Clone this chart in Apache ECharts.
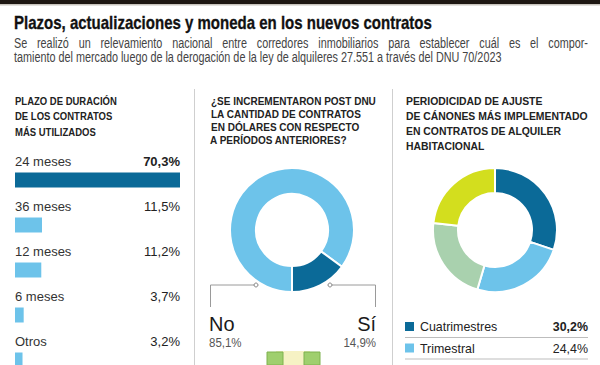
<!DOCTYPE html>
<html><head><meta charset="utf-8">
<script src="https://cdn.jsdelivr.net/npm/echarts@6/dist/echarts.min.js"></script>
<style>html,body{margin:0;padding:0;background:#fff}#c{width:600px;height:365px}</style>
</head><body><div id="c"></div>
<script>
// ---- Data ----
const title = "Plazos, actualizaciones y moneda en los nuevos contratos";
const subtitle = ["Se realizó un relevamiento nacional entre corredores inmobiliarios para establecer cuál es el compor-",
                  "tamiento del mercado luego de la derogación de la ley de alquileres 27.551 a través del DNU 70/2023"];
const head1 = ["PLAZO DE DURACIÓN", "DE LOS CONTRATOS", "MÁS UTILIZADOS"];
const head2 = ["¿SE INCREMENTARON POST DNU", "LA CANTIDAD DE CONTRATOS", "EN DÓLARES CON RESPECTO", "A PERÍODOS ANTERIORES?"];
const head3 = ["PERIODICIDAD DE AJUSTE", "DE CÁNONES MÁS IMPLEMENTADO", "EN CONTRATOS DE ALQUILER", "HABITACIONAL"];

const plazoCats = ["24 meses", "36 meses", "12 meses", "6 meses", "Otros"];
const plazoVals = [70.3, 11.5, 11.2, 3.7, 3.2];

const dolarCats = ["No", "Sí"];
const dolarVals = [85.1, 14.9];

const ajusteCats = ["Cuatrimestres", "Trimestral", "Semestral", "Otros"];
const ajusteVals = [30.2, 24.4, 22.2, 23.2];
const ajusteLegendShown = ["Cuatrimestres", "Trimestral"];

// ---- Styles ----
const DARK = "#0b6a98", LIGHT = "#6dc3ea", GREEN = "#a9d1ae", YELLOW = "#d3de1e";
const F = "'Liberation Sans',Arial,sans-serif";
const fmt = v => v.toFixed(1).replace('.', ',') + '%';
const maxV = Math.max(...plazoVals);

const mctx = document.createElement('canvas').getContext('2d');
function tw(text, font){ mctx.font = font; return mctx.measureText(text).width; }
function scaleFor(text, font, width){ return width / tw(text, font); }

const chart = echarts.init(document.getElementById('c'), null, {renderer: 'svg'});

const g = [];
g.push({type:'rect', shape:{x:0,y:0,width:600,height:4}, style:{fill:'#1d1712'}});
g.push({type:'rect', shape:{x:0,y:4,width:600,height:1.5}, style:{fill:'#c8c4bd'}});
const TF = "bold 17.5px " + F;
g.push({type:'text', x:14, y:22.5, scaleX:scaleFor(title, TF, 418), style:{text:title, font:TF, fill:'#111', verticalAlign:'middle', stroke:'#111', lineWidth:0.3}});
// subtitle: line 2 natural width, line 1 justified to the full measure
const SF = "14px " + F;
const ss = scaleFor(subtitle[1], SF, 488);
g.push({type:'text', x:14, y:58, scaleX:ss, style:{text:subtitle[1], font:SF, fill:'#444', verticalAlign:'middle'}});
(function(){
  const words = subtitle[0].split(' ');
  const wsum = words.reduce((s,w)=>s+tw(w,SF)*ss,0);
  const gap = (574 - wsum)/(words.length-1);
  let x = 14;
  words.forEach(w=>{
    g.push({type:'text', x:x, y:43.5, scaleX:ss, style:{text:w, font:SF, fill:'#444', verticalAlign:'middle'}});
    x += tw(w,SF)*ss + gap;
  });
})();
const HF = "bold 10px " + F;
head1.forEach((t,i)=>g.push({type:'text', x:15, y:101.5+i*15.3, scaleX:0.95, style:{text:t, font:HF, fill:'#222', verticalAlign:'middle'}}));
head2.forEach((t,i)=>g.push({type:'text', x:i===3?210:211, y:101.5+i*13, style:{text:t, font:HF, fill:'#222', verticalAlign:'middle'}}));
head3.forEach((t,i)=>g.push({type:'text', x:406, y:101.5+i*15, scaleX:1.04, style:{text:t, font:HF, fill:'#222', verticalAlign:'middle'}}));
// dividers
g.push({type:'line', shape:{x1:194.5,y1:89,x2:194.5,y2:365}, style:{stroke:'#cfcfcf', lineWidth:1}});
g.push({type:'line', shape:{x1:392.5,y1:89,x2:392.5,y2:365}, style:{stroke:'#cfcfcf', lineWidth:1}});
// leader lines panel 2
g.push({type:'polyline', shape:{points:[[256,285],[210.5,285],[210.5,307]]}, style:{stroke:'#9a9a9a', lineWidth:1, fill:null}});
g.push({type:'polyline', shape:{points:[[330,285],[375.5,285],[375.5,307]]}, style:{stroke:'#9a9a9a', lineWidth:1, fill:null}});
g.push({type:'circle', shape:{cx:256,cy:285,r:2}, style:{stroke:'#888', fill:'#fff', lineWidth:1}, z:100});
g.push({type:'circle', shape:{cx:330,cy:285,r:2}, style:{stroke:'#888', fill:'#fff', lineWidth:1}, z:100});
g.push({type:'text', x:209, y:323, scaleX:0.95, style:{text:dolarCats[0], font:"21px "+F, fill:'#1a1a1a', verticalAlign:'middle'}});
g.push({type:'text', x:209, y:342.5, scaleX:0.92, style:{text:fmt(dolarVals[0]), font:"12.5px "+F, fill:'#555', verticalAlign:'middle'}});
g.push({type:'text', x:376, y:323, scaleX:0.95, style:{text:dolarCats[1], font:"21px "+F, fill:'#1a1a1a', verticalAlign:'middle', align:'right'}});
g.push({type:'text', x:376, y:342.5, scaleX:0.92, style:{text:fmt(dolarVals[1]), font:"12.5px "+F, fill:'#555', verticalAlign:'middle', align:'right'}});
// small icon at bottom of panel 2
g.push({type:'rect', shape:{x:276,y:351,width:34,height:14}, style:{fill:'#f6f2c4'}});
g.push({type:'rect', shape:{x:267,y:352,width:16,height:13}, style:{fill:'#9fcf6e', stroke:'#7fb24e', lineWidth:1}});
g.push({type:'rect', shape:{x:304,y:352,width:16,height:13}, style:{fill:'#9fcf6e', stroke:'#7fb24e', lineWidth:1}});
// legend rows panel 3
ajusteLegendShown.forEach((n,i)=>{
  const idx = ajusteCats.indexOf(n);
  const y = 326.5 + i*21.5;
  g.push({type:'rect', shape:{x:405,y:y-4.5,width:9,height:9}, style:{fill:[DARK,LIGHT,GREEN,YELLOW][idx]}});
  g.push({type:'text', x:420, y:y, scaleX:0.92, style:{text:n, font:"13.5px "+F, fill:'#222', verticalAlign:'middle'}});
  g.push({type:'text', x:588, y:y, scaleX:0.92, style:{text:fmt(ajusteVals[idx]), font:(i===0?"bold ":"")+"13.5px "+F, fill:'#222', verticalAlign:'middle', align:'right'}});
  g.push({type:'line', shape:{x1:405,y1:y+11,x2:588,y2:y+11}, style:{stroke:'#bdbdbd', lineWidth:1}});
});

chart.setOption({
  animation:false,
  graphic:g,
  grid:{left:15, width:165, top:157.5, height:225, outerBoundsMode:'none', containLabel:false},
  xAxis:{type:'value', min:0, max:maxV, show:false},
  yAxis:{type:'category', data:plazoCats, inverse:true, show:false},
  series:[
    {type:'bar', data:plazoVals.map((v,i)=>({value:maxV, label:{fontWeight:i===0?'bold':'normal'}})), barWidth:15, barGap:'-100%',
     itemStyle:{color:'rgba(0,0,0,0)'}, silent:true,
     label:{show:true, position:'insideRight', distance:0, offset:[0,-19],
       formatter:p=>fmt(plazoVals[p.dataIndex]), fontFamily:F, fontSize:13, color:'#222'}},
    {type:'bar', data:plazoVals.map((v,i)=>({value:v, itemStyle:{color:i===0?DARK:LIGHT}})), barWidth:15, barGap:'-100%',
     label:{show:true, position:[0,-11.5], align:'left', verticalAlign:'middle',
       formatter:p=>plazoCats[p.dataIndex], fontFamily:F, fontSize:13, color:'#333'}},
    {type:'pie', center:[292,230], radius:[36,62], startAngle:-90, clockwise:true,
     label:{show:false}, labelLine:{show:false},
     itemStyle:{borderColor:'#fff', borderWidth:2},
     data:dolarCats.map((n,i)=>({name:n, value:dolarVals[i], itemStyle:{color:[LIGHT,DARK][i]}}))},
    {type:'pie', center:[495,230], radius:[37,62], startAngle:90, clockwise:true,
     label:{show:false}, labelLine:{show:false},
     itemStyle:{borderColor:'#fff', borderWidth:2},
     data:ajusteCats.map((n,i)=>({name:n, value:ajusteVals[i], itemStyle:{color:[DARK,LIGHT,GREEN,YELLOW][i]}}))}
  ]
});
</script></body></html>
